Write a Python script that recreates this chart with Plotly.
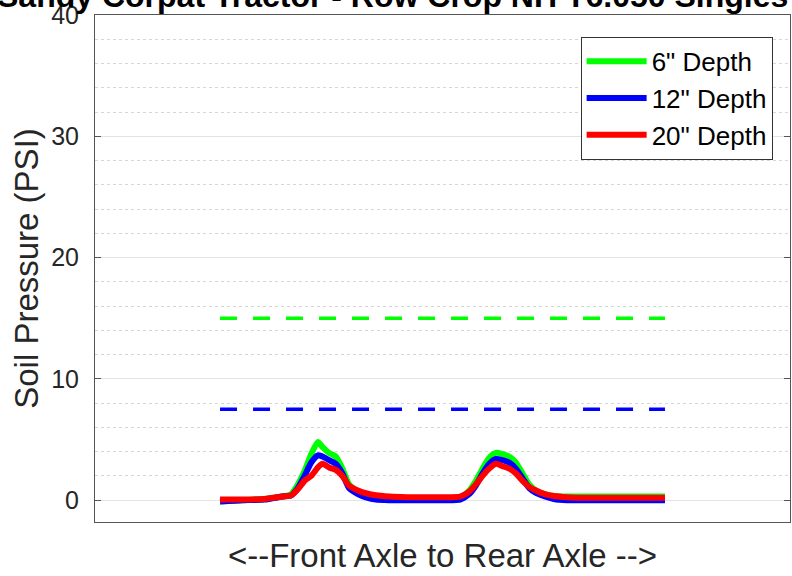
import plotly.graph_objects as go

# Data
pos = [0, 5, 10, 14, 16, 17.5, 19, 20.5, 22, 23, 24.5, 26, 27.5, 29, 31, 33, 35, 38, 42, 46,
       50, 54, 56, 57.5, 59, 60.5, 62, 63.5, 65, 66.5, 68, 69.5, 71, 73, 75, 78, 82, 86, 90, 95, 100]
depth6 = [-0.1, 0.0, 0.1, 0.3, 0.5, 1.3, 2.4, 3.8, 4.8, 4.4, 3.9, 3.6, 2.6, 1.3, 0.7, 0.45, 0.35, 0.2, 0.15, 0.15,
          0.15, 0.25, 0.8, 1.6, 2.6, 3.5, 3.9, 3.8, 3.6, 3.1, 2.2, 1.3, 0.8, 0.5, 0.35, 0.3, 0.3, 0.3, 0.3, 0.3, 0.3]
depth12 = [-0.1, 0.0, 0.05, 0.3, 0.4, 1.0, 2.0, 3.1, 3.7, 3.6, 3.3, 3.0, 2.2, 1.0, 0.5, 0.2, 0.05, 0.0, 0.0, 0.0,
           0.0, 0.05, 0.5, 1.2, 2.2, 3.0, 3.4, 3.3, 3.1, 2.6, 1.8, 1.0, 0.6, 0.3, 0.1, 0.0, 0.0, 0.0, 0.0, 0.0, 0.0]
depth20 = [0.05, 0.05, 0.1, 0.3, 0.4, 0.9, 1.6, 2.0, 2.7, 3.0, 2.7, 2.5, 2.0, 1.2, 0.8, 0.55, 0.4, 0.3, 0.25, 0.25,
           0.25, 0.3, 0.7, 1.3, 2.0, 2.6, 3.0, 2.8, 2.6, 2.2, 1.6, 1.1, 0.8, 0.5, 0.35, 0.25, 0.2, 0.2, 0.2, 0.2, 0.2]
limit_x = [0, 100]
limit6 = [15, 15]
limit12 = [7.5, 7.5]

names = ['6" Depth', '12" Depth', '20" Depth']
colors = ['#00ff00', '#0000ff', '#ff0000']
title_text = 'Sandy Corpat Tractor - Row Crop NH T6.050 Singles'

fig = go.Figure()
for ys, nm, c in zip([depth6, depth12, depth20], names, colors):
    fig.add_trace(go.Scatter(x=pos, y=ys, mode='lines', name=nm,
                             line=dict(color=c, width=6, shape='spline', smoothing=0.6)))
fig.add_trace(go.Scatter(x=limit_x, y=limit6, mode='lines', showlegend=False,
                         line=dict(color=colors[0], width=3.5, dash='17px,16px')))
fig.add_trace(go.Scatter(x=limit_x, y=limit12, mode='lines', showlegend=False,
                         line=dict(color=colors[1], width=3.5, dash='17px,16px')))

fig.add_annotation(text='<b>' + title_text + '</b>', xref='paper', x=1.0, xanchor='right',
                   yref='paper', y=1.0, yanchor='middle', yshift=19, showarrow=False,
                   font=dict(size=32, color='black', family='Liberation Sans, Arial'))

fig.update_layout(
    width=792, height=576,
    margin=dict(l=95, r=2, t=15, b=54),
    paper_bgcolor='white', plot_bgcolor='white',
    font=dict(family='Liberation Sans, Arial', color='#262626'),
    showlegend=True,
    legend=dict(x=0.975, xanchor='right', y=0.957, yanchor='top',
                bordercolor='#333333', borderwidth=1, bgcolor='white',
                font=dict(size=26, color='black'), tracegroupgap=0,
                itemwidth=60),
    xaxis=dict(range=[-28.1, 128.1], showticklabels=False, ticks='',
               showgrid=False, zeroline=False, showline=True, linecolor='#555555',
               linewidth=1, mirror=True,
               title=dict(text='<--Front Axle to Rear Axle -->', font=dict(size=33, color='#262626'),
                          standoff=21)),
    yaxis=dict(range=[-1.8, 40], tickvals=[0, 10, 20, 30, 40], ticks='inside', ticklen=6,
               tickcolor='#555555', tickfont=dict(size=25, color='#262626'),
               ticklabelstandoff=10,
               showgrid=True, gridcolor='#e3e3e3', gridwidth=1, zeroline=False,
               showline=True, linecolor='#555555', linewidth=1, mirror='ticks',
               minor=dict(dtick=2, showgrid=True, gridcolor='#d6d6d6', griddash='dot', gridwidth=1, ticks=''),
               title=dict(text='Soil Pressure (PSI)', font=dict(size=33, color='#262626'), standoff=2)),
)

fig.write_html('out.html')
